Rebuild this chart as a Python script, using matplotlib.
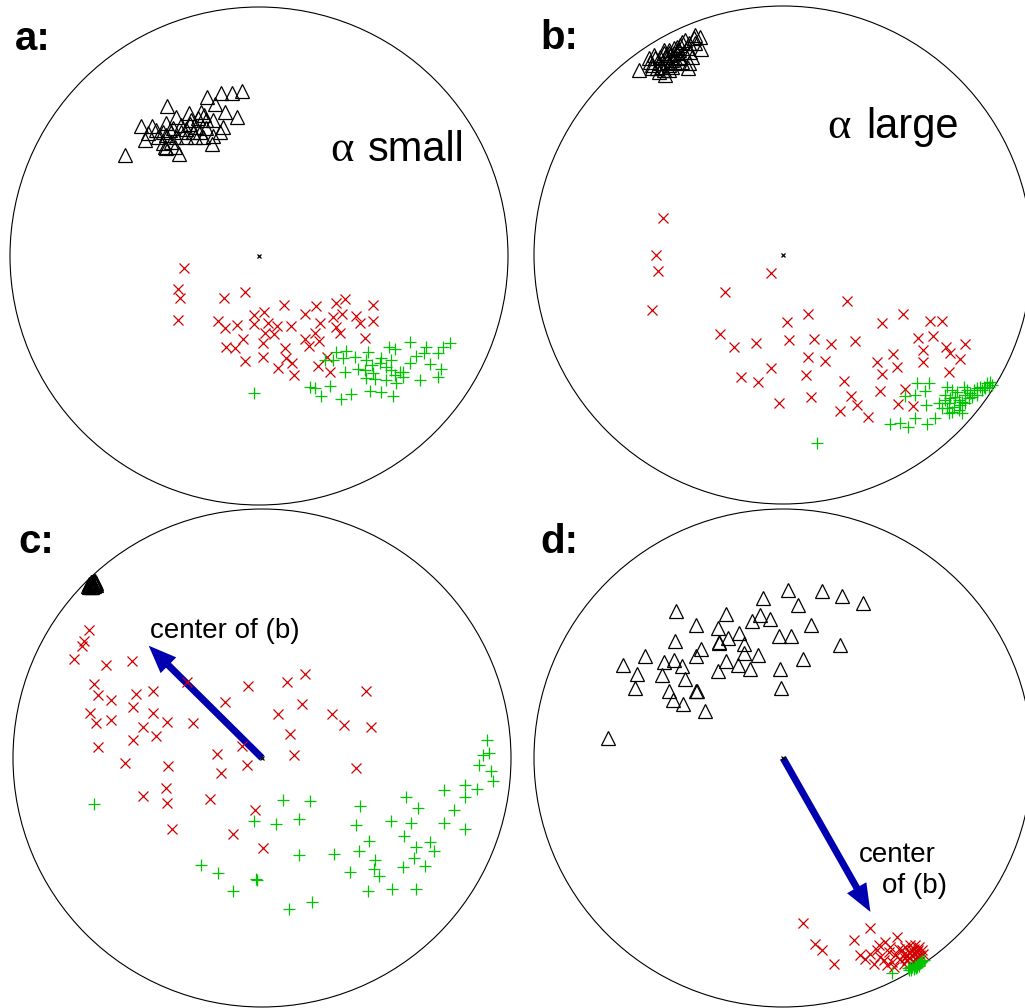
import matplotlib
matplotlib.use("Agg")
import matplotlib.pyplot as plt
from matplotlib.patches import Circle, FancyArrowPatch

plt.rcParams['font.family'] = ['Liberation Sans', 'DejaVu Sans']

# ---------------- data (Poincaré-disk coordinates) ----------------
a_tri_x = [-0.068, -0.108, -0.151, -0.209, -0.175, -0.369, -0.138, -0.087, -0.282, -0.233,
           -0.222, -0.335, -0.185, -0.473, -0.428, -0.372, -0.312, -0.278, -0.252, -0.145,
           -0.158, -0.386, -0.345, -0.292, -0.238, -0.446, -0.406, -0.372, -0.332, -0.292,
           -0.258, -0.225, -0.185, -0.456, -0.386, -0.352, -0.189, -0.372, -0.339, -0.537,
           -0.321, -0.379, -0.265, -0.212, -0.272, -0.245, -0.312, -0.412, -0.212, -0.359]
a_tri_y = [0.664, 0.656, 0.656, 0.640, 0.610, 0.602, 0.580, 0.557, 0.576, 0.580,
           0.566, 0.560, 0.546, 0.522, 0.522, 0.533, 0.526, 0.530, 0.519, 0.519,
           0.499, 0.499, 0.513, 0.509, 0.499, 0.493, 0.479, 0.486, 0.479, 0.477,
           0.479, 0.479, 0.482, 0.466, 0.452, 0.459, 0.448, 0.432, 0.439, 0.406,
           0.408, 0.439, 0.499, 0.513, 0.546, 0.553, 0.499, 0.506, 0.546, 0.506]
a_red_x = [-0.303, -0.324, -0.316, -0.327, -0.142, -0.058, 0.099, 0.230, 0.308, 0.344,
           0.459, -0.021, 0.019, -0.166, -0.137, -0.088, -0.019, 0.037, 0.074, 0.129,
           0.185, 0.244, 0.299, 0.333, 0.391, 0.404, 0.459, 0.309, 0.327, 0.225,
           0.185, 0.241, 0.201, 0.427, 0.024, 0.062, -0.064, 0.016, -0.133, -0.096,
           0.103, -0.058, 0.016, 0.110, 0.131, 0.075, 0.142, 0.237, 0.286, 0.273]
a_red_y = [-0.047, -0.131, -0.167, -0.257, -0.167, -0.146, -0.195, -0.199, -0.187, -0.173,
           -0.195, -0.237, -0.224, -0.261, -0.288, -0.277, -0.274, -0.268, -0.280, -0.280,
           -0.234, -0.268, -0.246, -0.232, -0.240, -0.268, -0.260, -0.284, -0.309, -0.308,
           -0.332, -0.341, -0.361, -0.331, -0.308, -0.315, -0.333, -0.348, -0.364, -0.368,
           -0.368, -0.420, -0.407, -0.411, -0.428, -0.450, -0.478, -0.440, -0.466, -0.404]
a_grn_x = [-0.020, 0.203, 0.224, 0.284, 0.250, 0.331, 0.368, 0.444, 0.489, 0.538,
           0.344, 0.398, 0.428, 0.465, 0.511, 0.552, 0.578, 0.645, 0.719, 0.732,
           0.685, 0.605, 0.629, 0.663, 0.672, 0.719, 0.739, 0.766, 0.608, 0.522,
           0.545, 0.491, 0.531, 0.438, 0.431, 0.455, 0.351, 0.311, 0.337, 0.297,
           0.264, 0.511, 0.565, 0.531, 0.485, 0.424, 0.545, 0.458, 0.578, 0.384]
a_grn_y = [-0.552, -0.525, -0.531, -0.521, -0.561, -0.576, -0.554, -0.541, -0.545, -0.562,
           -0.465, -0.455, -0.491, -0.494, -0.498, -0.511, -0.485, -0.498, -0.485, -0.455,
           -0.435, -0.431, -0.402, -0.388, -0.364, -0.391, -0.364, -0.351, -0.347, -0.364,
           -0.375, -0.411, -0.418, -0.384, -0.418, -0.438, -0.380, -0.384, -0.408, -0.418,
           -0.418, -0.444, -0.465, -0.458, -0.431, -0.458, -0.478, -0.471, -0.465, -0.404]

b_tri_x = [-0.580, -0.473, -0.382, -0.329, -0.332, -0.359, -0.365, -0.379, -0.406, -0.426,
           -0.439, -0.459, -0.479, -0.493, -0.513, -0.533, -0.539, -0.499, -0.466, -0.446,
           -0.419, -0.399, -0.386, -0.412, -0.432, -0.459, -0.486, -0.506, -0.526, -0.479,
           -0.452, -0.419, -0.392, -0.352, -0.372, -0.439, -0.479, -0.519, -0.473, -0.426,
           -0.406, -0.459, -0.499, -0.352, -0.379, -0.446, -0.526, -0.412, -0.459, -0.432]
b_tri_y = [0.743, 0.723, 0.750, 0.826, 0.877, 0.870, 0.797, 0.850, 0.857, 0.837,
           0.810, 0.823, 0.823, 0.797, 0.790, 0.776, 0.790, 0.770, 0.776, 0.783,
           0.790, 0.817, 0.830, 0.797, 0.770, 0.763, 0.756, 0.750, 0.763, 0.743,
           0.803, 0.823, 0.863, 0.850, 0.817, 0.830, 0.810, 0.803, 0.797, 0.810,
           0.776, 0.743, 0.736, 0.884, 0.770, 0.756, 0.750, 0.843, 0.810, 0.790]
b_red_x = [-0.482, -0.511, -0.501, -0.525, -0.050, -0.232, 0.257, 0.099, 0.017, 0.396,
           0.482, 0.589, 0.640, -0.253, -0.195, -0.107, 0.025, 0.126, 0.191, 0.289,
           0.542, 0.604, 0.655, 0.732, 0.561, 0.669, 0.711, 0.102, 0.167, 0.442,
           0.378, 0.561, 0.458, -0.050, -0.167, -0.100, 0.091, 0.398, 0.665, 0.246,
           0.388, 0.489, 0.114, 0.272, -0.015, 0.297, 0.461, 0.521, 0.229, 0.341]
b_red_y = [0.147, 0.000, -0.063, -0.221, -0.074, -0.149, -0.183, -0.236, -0.268, -0.272,
           -0.236, -0.264, -0.265, -0.317, -0.368, -0.352, -0.341, -0.339, -0.359, -0.344,
           -0.332, -0.325, -0.368, -0.359, -0.382, -0.395, -0.418, -0.408, -0.424, -0.399,
           -0.428, -0.428, -0.448, -0.452, -0.491, -0.511, -0.481, -0.477, -0.471, -0.505,
           -0.545, -0.539, -0.572, -0.568, -0.596, -0.602, -0.600, -0.606, -0.627, -0.649]
b_grn_x = [0.138, 0.431, 0.469, 0.502, 0.531, 0.578, 0.609, 0.491, 0.531, 0.538,
           0.585, 0.569, 0.576, 0.625, 0.659, 0.652, 0.665, 0.679, 0.705, 0.719,
           0.726, 0.732, 0.692, 0.685, 0.712, 0.746, 0.766, 0.779, 0.793, 0.806,
           0.819, 0.833, 0.839, 0.759, 0.739, 0.665, 0.639, 0.699, 0.679, 0.652,
           0.732, 0.719, 0.752, 0.779, 0.799, 0.813, 0.826, 0.672, 0.705, 0.659]
b_grn_y = [-0.754, -0.680, -0.676, -0.689, -0.653, -0.679, -0.656, -0.565, -0.562, -0.515,
           -0.515, -0.545, -0.602, -0.593, -0.529, -0.562, -0.596, -0.629, -0.622, -0.589,
           -0.529, -0.562, -0.569, -0.609, -0.602, -0.576, -0.542, -0.535, -0.529, -0.529,
           -0.515, -0.509, -0.522, -0.569, -0.542, -0.636, -0.616, -0.549, -0.542, -0.582,
           -0.596, -0.636, -0.556, -0.562, -0.542, -0.535, -0.529, -0.576, -0.582, -0.616]

c_tri_x = [-0.700, -0.695, -0.690, -0.685, -0.680, -0.675, -0.672, -0.690, -0.682, -0.678,
           -0.670, -0.665, -0.688, -0.695, -0.676, -0.668, -0.684, -0.692, -0.673, -0.681]
c_tri_y = [0.690, 0.698, 0.700, 0.705, 0.700, 0.705, 0.710, 0.690, 0.695, 0.692,
           0.700, 0.702, 0.685, 0.688, 0.712, 0.695, 0.708, 0.694, 0.690, 0.686]
c_red_x = [-0.693, -0.716, -0.723, -0.756, -0.627, -0.522, -0.673, -0.660, -0.606, -0.505,
           -0.439, -0.692, -0.665, -0.606, -0.518, -0.438, -0.383, -0.277, -0.479, -0.424,
           -0.518, -0.659, -0.549, -0.379, -0.384, -0.479, -0.380, -0.361, -0.210, -0.181,
           -0.165, -0.080, -0.060, -0.150, -0.056, -0.301, 0.100, 0.174, 0.419, 0.161,
           0.066, 0.280, 0.331, 0.439, 0.114, 0.129, 0.379, -0.028, -0.118, 0.005]
c_red_y = [0.515, 0.469, 0.448, 0.399, 0.372, 0.388, 0.297, 0.254, 0.234, 0.257,
           0.268, 0.181, 0.141, 0.154, 0.203, 0.179, 0.143, 0.141, 0.124, 0.087,
           0.071, 0.044, -0.020, -0.031, -0.120, -0.154, -0.181, -0.285, -0.163, 0.016,
           -0.060, 0.050, -0.028, 0.224, 0.288, 0.304, 0.304, 0.337, 0.270, 0.216,
           0.177, 0.178, 0.134, 0.124, 0.098, 0.011, -0.040, -0.207, -0.305, -0.361]
c_grn_x = [-0.676, 0.083, 0.194, -0.032, 0.055, 0.147, 0.395, 0.580, 0.628, 0.376,
           0.517, 0.598, 0.569, 0.428, 0.388, 0.288, 0.147, -0.245, -0.178, -0.118,
           -0.023, 0.108, 0.199, 0.355, 0.424, 0.522, 0.620, 0.455, 0.448, 0.471,
           0.565, 0.609, 0.620, 0.653, 0.673, 0.689, 0.731, 0.772, 0.817, 0.730,
           0.817, 0.814, 0.863, 0.904, 0.888, 0.873, 0.920, 0.928, -0.020, 0.910]
c_grn_y = [-0.185, -0.169, -0.173, -0.254, -0.265, -0.245, -0.194, -0.155, -0.201, -0.268,
           -0.252, -0.262, -0.312, -0.335, -0.375, -0.384, -0.390, -0.430, -0.462, -0.535,
           -0.486, -0.608, -0.578, -0.459, -0.535, -0.526, -0.527, -0.408, -0.446, -0.475,
           -0.439, -0.402, -0.357, -0.432, -0.339, -0.375, -0.261, -0.207, -0.285, -0.129,
           -0.107, -0.158, -0.124, 0.074, 0.013, -0.027, -0.054, -0.091, -0.489, 0.020]

d_tri_x = [-0.704, -0.644, -0.586, -0.596, -0.553, -0.479, -0.486, -0.459, -0.442, -0.402,
           -0.395, -0.406, -0.439, -0.432, -0.430, -0.348, -0.328, -0.348, -0.348, -0.312,
           -0.260, -0.256, -0.260, -0.228, -0.222, -0.228, -0.182, -0.178, -0.158, -0.158,
           -0.131, -0.100, -0.124, -0.091, -0.082, -0.051, 0.019, 0.059, -0.017, 0.031,
           -0.011, -0.007, 0.080, 0.112, 0.157, 0.237, 0.321, 0.229, -0.345, -0.258]
d_tri_y = [0.080, 0.372, 0.336, 0.281, 0.408, 0.386, 0.335, 0.268, 0.234, 0.218,
           0.316, 0.369, 0.395, 0.470, 0.590, 0.533, 0.439, 0.408, 0.268, 0.187,
           0.522, 0.462, 0.349, 0.580, 0.483, 0.390, 0.375, 0.502, 0.456, 0.422,
           0.359, 0.415, 0.550, 0.576, 0.643, 0.557, 0.676, 0.613, 0.490, 0.490,
           0.356, 0.281, 0.399, 0.535, 0.671, 0.649, 0.622, 0.455, 0.270, 0.466]
d_red_x = [0.079, 0.351, 0.127, 0.157, 0.203, 0.284, 0.311, 0.351, 0.364, 0.384,
           0.411, 0.391, 0.424, 0.438, 0.458, 0.465, 0.471, 0.485, 0.491, 0.498,
           0.505, 0.511, 0.518, 0.525, 0.531, 0.538, 0.545, 0.552, 0.558, 0.485,
           0.511, 0.531, 0.518, 0.538, 0.498, 0.478, 0.451, 0.431, 0.404, 0.378,
           0.331, 0.418, 0.444, 0.505, 0.525, 0.552, 0.561, 0.542, 0.529, 0.491]
d_red_y = [-0.663, -0.681, -0.748, -0.770, -0.829, -0.732, -0.792, -0.786, -0.826, -0.752,
           -0.739, -0.799, -0.779, -0.819, -0.719, -0.766, -0.806, -0.786, -0.759, -0.813,
           -0.779, -0.752, -0.793, -0.766, -0.806, -0.779, -0.759, -0.793, -0.772, -0.826,
           -0.826, -0.786, -0.772, -0.799, -0.793, -0.772, -0.793, -0.759, -0.813, -0.772,
           -0.806, -0.833, -0.839, -0.802, -0.819, -0.810, -0.786, -0.770, -0.752, -0.802]
d_grn_x = [0.438, 0.520, 0.530, 0.540, 0.550, 0.545, 0.535, 0.525, 0.515, 0.555,
           0.560, 0.548, 0.538, 0.528, 0.505, 0.565, 0.500, 0.510, 0.543]
d_grn_y = [-0.863, -0.840, -0.835, -0.830, -0.825, -0.835, -0.842, -0.848, -0.850, -0.820,
           -0.815, -0.828, -0.838, -0.843, -0.852, -0.812, -0.845, -0.838, -0.826]

panel_labels = ['a:', 'b:', 'c:', 'd:']
alpha_symbol = '\u03b1'
alpha_words = ['small', 'large']
arrow_label_c = 'center of (b)'
arrow_label_d = ['center', 'of (b)']
c_arrow_tip = (-0.455, 0.451)
d_arrow_tip = (0.351, -0.618)

# ---------------- figure ----------------
W, H = 1025, 1008
fig = plt.figure(figsize=(W / 100, H / 100), dpi=100)
R = 249
centers = [(259, 256), (783, 255), (262, 758), (783, 758)]

RED = '#d20000'
GRN = '#00c400'
BLUE = '#0000b0'

def make_ax(cx, cy):
    ax = fig.add_axes([(cx - R) / W, (H - cy - R) / H, 2 * R / W, 2 * R / H])
    ax.set_xlim(-1, 1)
    ax.set_ylim(-1, 1)
    ax.axis('off')
    ax.add_patch(Circle((0, 0), 1, fill=False, lw=0.8, color='black', clip_on=False))
    return ax

def draw(ax, tx, ty, rx, ry, gx, gy, tri_ms=9.5):
    ax.plot(tx, ty, ls='none', marker='^', ms=tri_ms, mfc='none', mec='black', mew=0.9, clip_on=False)
    ax.plot(rx, ry, ls='none', marker='x', ms=6.5, color=RED, mew=0.9, clip_on=False)
    ax.plot(gx, gy, ls='none', marker='+', ms=8, color=GRN, mew=0.9, clip_on=False)
    ax.plot([0], [0], ls='none', marker='x', ms=3, color='black', mew=0.9)

axes = [make_ax(*c) for c in centers]
draw(axes[0], a_tri_x, a_tri_y, a_red_x, a_red_y, a_grn_x, a_grn_y)
draw(axes[1], b_tri_x, b_tri_y, b_red_x, b_red_y, b_grn_x, b_grn_y)
draw(axes[2], c_tri_x, c_tri_y, c_red_x, c_red_y, c_grn_x, c_grn_y)
draw(axes[3], d_tri_x, d_tri_y, d_red_x, d_red_y, d_grn_x, d_grn_y)

# alpha annotations: Greek letter in a serif face, word in sans
for ax, xa, xw, yb, word in [(axes[0], 0.285, 0.438, 0.382, alpha_words[0]),
                             (axes[1], 0.177, 0.333, 0.470, alpha_words[1])]:
    ax.text(xa, yb, alpha_symbol, fontsize=32, va='baseline', ha='left',
            family=['Liberation Serif', 'DejaVu Serif'])
    ax.text(xw, yb, word, fontsize=30, va='baseline', ha='left')

for ax, tip in [(axes[2], c_arrow_tip), (axes[3], d_arrow_tip)]:
    arr = FancyArrowPatch((0, 0), tip,
                          arrowstyle='simple,head_length=2.0,head_width=1.6,tail_width=0.5',
                          mutation_scale=10, color=BLUE, lw=0, shrinkA=0, shrinkB=0)
    ax.add_patch(arr)

axes[2].text(-0.450, 0.482, arrow_label_c, fontsize=20, va='baseline', ha='left')
axes[3].text(0.305, -0.418, arrow_label_d[0], fontsize=20, va='baseline', ha='left')
axes[3].text(0.398, -0.542, arrow_label_d[1], fontsize=20, va='baseline', ha='left')

label_pos = [(15, 50), (540, 49), (18, 553), (540, 553)]
for lab, (px, py) in zip(panel_labels, label_pos):
    fig.text(px / W, 1 - py / H, lab, fontsize=29, fontweight='bold', va='baseline', ha='left')

fig.savefig('out.png', dpi=100)
